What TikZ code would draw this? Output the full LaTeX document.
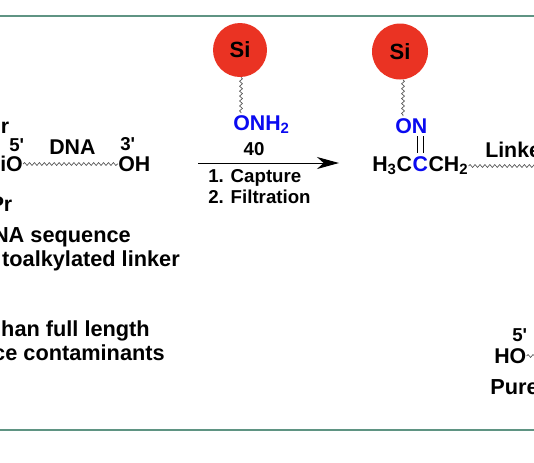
\documentclass[tikz,border=0pt]{standalone}
\usepackage{fontspec}
\setmainfont{Liberation Sans}
\usetikzlibrary{arrows.meta, positioning, decorations.pathmorphing}
\definecolor{frameline}{HTML}{5F9483}
\definecolor{beadred}{HTML}{EA3323}
\definecolor{atomblue}{HTML}{0A0AF0}
\definecolor{wavegray}{HTML}{555555}
\tikzset{
    bigtxt/.style={font=\fontsize{16}{16}\selectfont\bfseries, inner sep=0pt, text=black},
    captxt/.style={font=\fontsize{16.3}{16.3}\selectfont\bfseries, inner sep=0pt, text=black},
    midtxt/.style={font=\fontsize{14}{14}\selectfont\bfseries, inner sep=0pt, text=black},
    bluetxt/.style={bigtxt, text=atomblue},
    bead/.style={circle, fill=beadred, inner sep=0pt, font=\fontsize{16.5}{16.5}\selectfont\bfseries},
    wave/.style={draw=wavegray, line width=0.5pt, decorate, decoration={snake, amplitude=1.1pt, segment length=3.7pt}}
}

\begin{document}
\begin{tikzpicture}[x=0.75pt, y=-0.75pt]
    \useasboundingbox (0,0) rectangle (534,462);
    \clip (0,0) rectangle (534,462);

    % Frame lines
    \coordinate (topl) at (0,16);
    \coordinate (topr) at (534,16);
    \coordinate (botl) at (0,429.5);
    \coordinate (botr) at (534,429.5);
    \draw[frameline, line width=1.5pt] (topl) -- (topr);
    \draw[frameline, line width=1.5pt] (botl) -- (botr);

    % Protected DNA on the left
    \node[bigtxt, anchor=base west] (trtop) at (0.5,133) {r};
    \node[bigtxt, anchor=base west] (siO) at (0,171) {iO};
    \node[midtxt, anchor=base west] (fivea) at (9,151) {5\textquotesingle};
    \node[bigtxt, anchor=base west] (dna) at (49,154) {DNA};
    \node[midtxt, anchor=base west] (threea) at (120,150) {3\textquotesingle};
    \node[bigtxt, anchor=base west] (oh) at (118,171) {OH};
    \node[bigtxt, anchor=base west] (pr) at (-10.5,211) {Pr};
    \draw[wave] (siO.east |- 0,164) -- (oh.west |- 0,164);

    % Captions on the left
    \node[captxt, anchor=base east] (capa) at (131,242) {NA sequence};
    \node[captxt, anchor=base east] (capb) at (180,266) {toalkylated linker};
    \node[captxt, anchor=base east] (capc) at (150,336) {han full length};
    \node[captxt, anchor=base east] (capd) at (165,360) {ce contaminants};

    % Capture reagent
    \node[bead, minimum size=40.5pt] (sia) at (240,50) {Si};
    \node[bluetxt, anchor=base west] (onh) at (233,130) {ONH\textsubscript{2}};
    \draw[wave] (sia.south -| 241,0) -- (241,113);
    \node[midtxt, anchor=base] (forty) at (254,155.5) {40};

    % Reaction arrow
    \coordinate (arra) at (198,163);
    \coordinate (arrb) at (339,163);
    \draw[line width=0.75pt, -{Stealth[length=16.5pt, width=9pt, inset=5pt]}] (arra) -- (arrb);
    \node[midtxt, anchor=base west] (stepa) at (208,182) {1. Capture};
    \node[midtxt, anchor=base west] (stepb) at (208,203) {2. Filtration};

    % Bound product
    \node[bead, minimum size=42pt] (sib) at (400,51.5) {Si};
    \node[bluetxt, anchor=base west] (on) at (395,133) {ON};
    \draw[wave] (sib.south -| 403,0) -- (403,116);
    \node[bigtxt, anchor=base west] (hc) at (372,171) {H\textsubscript{3}C};
    \node[bluetxt, right=0pt of hc.base east, anchor=base west] (cc) {C};
    \node[bigtxt, right=0pt of cc.base east, anchor=base west] (ch) {CH\textsubscript{2}};
    \draw[line width=0.5pt] ([xshift=-2pt,yshift=-2pt]on.south -| cc.north) -- ([xshift=-2pt,yshift=2pt]cc.north);
    \draw[line width=0.5pt] ([xshift=2pt,yshift=-2pt]on.south -| cc.north) -- ([xshift=2pt,yshift=2pt]cc.north);
    \node[bigtxt, anchor=base west] (linker) at (485,157) {Linke};
    \coordinate (wavend) at (536,166);
    \draw[wave] (ch.east |- wavend) -- (wavend);

    % Purified DNA
    \node[midtxt, anchor=base west] (fiveb) at (512,341) {5\textquotesingle};
    \node[bigtxt, anchor=base west] (ho) at (494,363) {HO};
    \coordinate (waveb) at (536,356);
    \draw[wave] (ho.east |- waveb) -- (waveb);
    \node[captxt, anchor=base west] (pure) at (490,394) {Pure};
\end{tikzpicture}
\end{document}
